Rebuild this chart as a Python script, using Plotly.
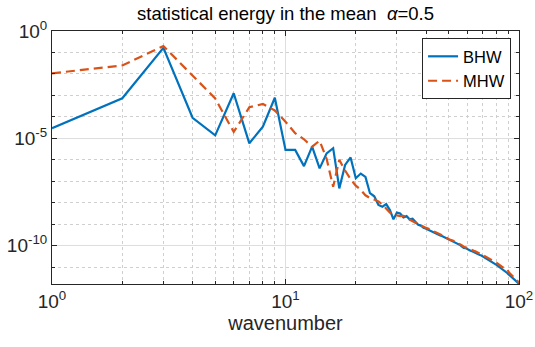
import plotly.graph_objects as go

# wavenumbers 1..100
wavenumber = list(range(1, 101))

bhw = [
  2.95e-5, 7.4e-4, 0.166, 9.1e-5, 1.38e-5, 1.26e-3, 5.9e-6, 3.5e-5, 7.8e-4, 2.9e-6,
  2.9e-6, 5.1e-7, 4.1e-6, 4.0e-7, 2.0e-6, 3.5e-6, 4.7e-8, 5.8e-7, 1.3e-6, 1.4e-7,
  2.3e-7, 1.6e-7, 2.8e-8, 2.0e-8, 7.9e-9, 6.6e-9, 8.7e-9, 4.6e-9, 1.7e-9, 3.5e-9,
  3.2e-9, 2.1e-9, 2.4e-9, 1.7e-9, 1.8e-9, 1.3e-9, 9.5e-10, 8.7e-10, 6.8e-10, 6.2e-10,
  5.4e-10, 5.0e-10, 4.2e-10, 3.9e-10, 3.4e-10, 3.0e-10, 2.8e-10, 2.5e-10, 2.2e-10, 1.9e-10,
  1.7e-10, 1.5e-10, 1.45e-10, 1.26e-10, 1.15e-10, 1.07e-10, 9.1e-11, 7.9e-11, 7.8e-11, 6.9e-11,
  6.5e-11, 5.9e-11, 5.5e-11, 5.0e-11, 4.7e-11, 4.4e-11, 4.0e-11, 3.7e-11, 3.5e-11, 3.2e-11,
  2.95e-11, 2.7e-11, 2.5e-11, 2.3e-11, 2.1e-11, 1.95e-11, 1.78e-11, 1.62e-11, 1.45e-11, 1.3e-11,
  1.2e-11, 1.07e-11, 9.8e-12, 8.9e-12, 8.1e-12, 7.4e-12, 6.8e-12, 6.0e-12, 5.4e-12, 4.8e-12,
  4.3e-12, 3.9e-12, 3.5e-12, 3.2e-12, 2.9e-12, 2.6e-12, 2.4e-12, 2.2e-12, 1.95e-12, 1.7e-12,
]

mhw = [
  1.07e-2, 2.5e-2, 0.20, 8.3e-3, 7.2e-4, 2.0e-5, 2.8e-4, 4.0e-4, 2.0e-4, 6.0e-5,
  1.74e-5, 9.1e-6, 4.1e-6, 7.8e-6, 1.12e-6, 5.6e-8, 1.0e-6, 3.2e-7, 1.26e-7, 6.3e-8,
  4.0e-8, 2.24e-8, 1.66e-8, 1.41e-8, 1.17e-8, 8.3e-9, 5.2e-9, 3.5e-9, 2.8e-9, 2.6e-9,
  2.4e-9, 2.5e-9, 2.2e-9, 1.66e-9, 1.45e-9, 1.17e-9, 1.02e-9, 8.7e-10, 7.9e-10, 6.8e-10,
  6.2e-10, 5.5e-10, 4.9e-10, 4.1e-10, 3.8e-10, 3.4e-10, 3.0e-10, 2.7e-10, 2.4e-10, 2.0e-10,
  1.9e-10, 1.74e-10, 1.55e-10, 1.41e-10, 1.35e-10, 1.15e-10, 1.05e-10, 8.9e-11, 8.7e-11, 7.9e-11,
  7.6e-11, 6.8e-11, 6.3e-11, 5.8e-11, 5.5e-11, 4.9e-11, 4.7e-11, 4.3e-11, 4.0e-11, 3.7e-11,
  3.4e-11, 3.2e-11, 2.95e-11, 2.7e-11, 2.5e-11, 2.3e-11, 2.1e-11, 2.0e-11, 1.78e-11, 1.62e-11,
  1.5e-11, 1.3e-11, 1.23e-11, 1.1e-11, 1.02e-11, 9.1e-12, 8.5e-12, 7.6e-12, 7.9e-12, 6.3e-12,
  5.4e-12, 4.8e-12, 4.3e-12, 3.8e-12, 3.5e-12, 3.1e-12, 2.75e-12, 2.45e-12, 2.2e-12, 1.95e-12,
]

x_ticks = [1, 10, 100]
x_ticktext = ["10<sup>0</sup>", "10<sup>1</sup>", "10<sup>2</sup>"]
x_minor = [2, 3, 4, 5, 6, 7, 8, 9, 20, 30, 40, 50, 60, 70, 80, 90]
y_ticks = [1, 1e-5, 1e-10]
y_ticktext = ["10<sup>0</sup>", "10<sup>-5</sup>", "10<sup>-10</sup>"]
y_minor = [1e-1, 1e-2, 1e-3, 1e-4, 1e-6, 1e-7, 1e-8, 1e-9, 1e-11]

INK = "#262626"
FONT = "Liberation Sans, Arial, sans-serif"


def axis_style(tickvals, ticktext, minorvals, rng, title=None):
  return dict(
    type="log",
    range=rng,
    tickvals=tickvals,
    ticktext=ticktext,
    ticks="inside",
    ticklen=5,
    tickcolor=INK,
    tickfont=dict(size=19, color=INK),
    ticklabeloverflow="allow",
    automargin=False,
    showline=True,
    linecolor=INK,
    linewidth=1,
    mirror="ticks",
    showgrid=True,
    gridcolor="#dedede",
    gridwidth=1,
    zeroline=False,
    minor=dict(
      tickvals=minorvals,
      ticks="inside",
      ticklen=3,
      tickcolor=INK,
      showgrid=True,
      gridcolor="#cfcfcf",
      griddash="dot",
      gridwidth=1,
    ),
    title=dict(text=title, font=dict(size=20, color=INK), standoff=4) if title else None,
  )


fig = go.Figure()
fig.add_trace(go.Scatter(
  x=wavenumber, y=bhw, name="BHW", mode="lines",
  line=dict(color="#0072BD", width=2.2),
))
fig.add_trace(go.Scatter(
  x=wavenumber, y=mhw, name="MHW", mode="lines",
  line=dict(color="#D95319", width=2.2, dash="9px,5px"),
))

fig.update_layout(
  width=535, height=347,
  margin=dict(l=52, r=16, t=31, b=63),
  paper_bgcolor="white",
  plot_bgcolor="white",
  font=dict(family=FONT, color=INK),
  title=dict(
    text="statistical energy in the mean  <i>α</i>=0.5",
    x=(52 + 519) / 2 / 535, xanchor="center",
    y=1 - 14 / 347, yanchor="middle",
    font=dict(size=18.5, color="#000000"),
  ),
  xaxis=axis_style(x_ticks, x_ticktext, x_minor, [0, 2], "wavenumber"),
  yaxis=axis_style(y_ticks, y_ticktext, y_minor, [-11.78, 0]),
  legend=dict(
    x=0.983, xanchor="right", y=0.972, yanchor="top",
    bgcolor="white", bordercolor=INK, borderwidth=1,
    font=dict(size=16.5, color="#000000"),
    itemwidth=30,
    tracegroupgap=0,
  ),
  showlegend=True,
)

# the page's default body margin would shift the figure inside the window
fig.write_html(
  "out.html",
  config={"displayModeBar": False},
  post_script="document.body.style.margin = '0';",
)
